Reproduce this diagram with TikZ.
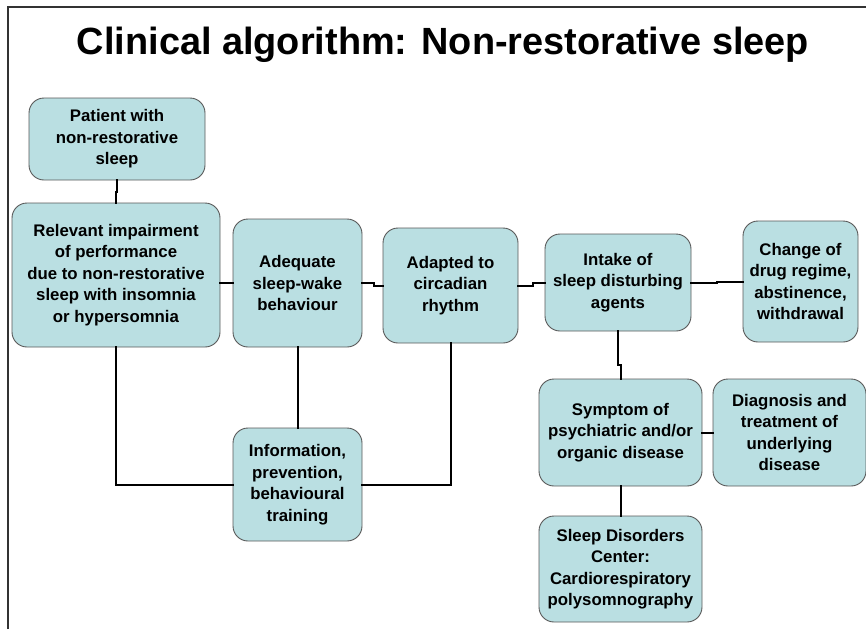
\documentclass[tikz,border=0pt]{standalone}
\usepackage{fontspec}
\setmainfont{Liberation Sans}
\definecolor{boxfill}{RGB}{186,223,226}
\begin{document}
\begin{tikzpicture}[x=1pt,y=-1pt,
  stepbox/.style={draw=black!65,line width=0.9pt,fill=boxfill,rounded corners=15pt,
    align=center,inner sep=0pt,font=\fontsize{16.8}{21.5}\selectfont\bfseries},
  link/.style={line width=2pt,line cap=rect}]
\useasboundingbox (0,0) rectangle (866,629);
\draw[line width=1.3pt,black!80] (8,629) |- (866,7);
\node[font=\fontsize{37.9}{42}\selectfont\bfseries] (title) at (443,45) {Clinical algorithm: Non-restorative sleep};
\node[stepbox,minimum width=176pt,minimum height=82pt] (pat) at (117,139) {Patient with\\non-restorative\\sleep};
\node[stepbox,minimum width=208pt,minimum height=144pt] (rel) at (116,275) {Relevant impairment\\of performance\\due to non-restorative\\sleep with insomnia\\or hypersomnia};
\node[stepbox,minimum width=129pt,minimum height=128pt] (adq) at (297.5,283) {Adequate\\sleep-wake\\behaviour};
\node[stepbox,minimum width=135pt,minimum height=115pt] (adp) at (450.5,285.5) {Adapted to\\circadian\\rhythm};
\node[stepbox,minimum width=146pt,minimum height=97pt] (int) at (618,282.5) {Intake of\\sleep disturbing\\agents};
\node[stepbox,minimum width=115pt,minimum height=121pt] (chg) at (800.5,281.5) {Change of\\drug regime,\\abstinence,\\withdrawal};
\node[stepbox,minimum width=163pt,minimum height=107pt] (sym) at (620.5,432.5) {Symptom of\\psychiatric and/or\\organic disease};
\node[stepbox,minimum width=153pt,minimum height=107pt] (dia) at (789.5,432.5) {Diagnosis and\\treatment of\\underlying\\disease};
\node[stepbox,minimum width=129pt,minimum height=113pt] (inf) at (297.5,484.5) {Information,\\prevention,\\behavioural\\training};
\node[stepbox,minimum width=163pt,minimum height=106pt] (sdc) at (620.5,569) {Sleep Disorders\\Center:\\Cardiorespiratory\\polysomnography};
% connectors
\draw[link] (pat.south) -- ++(0,12) -| (rel.north);
\draw[link] (rel.east |- adq.west) -- (adq.west);
\draw[link] (adq.east) -- ++(12,0) |- (adp.west);
\draw[link] (adp.east) -- ++(15,0) |- (int.west);
\draw[link] (int.east) -- ++(26,0) |- (chg.west);
\draw[link] (rel.south) |- (inf.west);
\draw[link] (adq.south) -- (inf.north);
\draw[link] (adp.south) |- (inf.east);
\draw[link] (int.south) -- ++(0,34) -| (sym.north);
\draw[link] (sym.east) -- (dia.west);
\draw[link] (sym.south) -- (sdc.north);
\end{tikzpicture}
\end{document}
